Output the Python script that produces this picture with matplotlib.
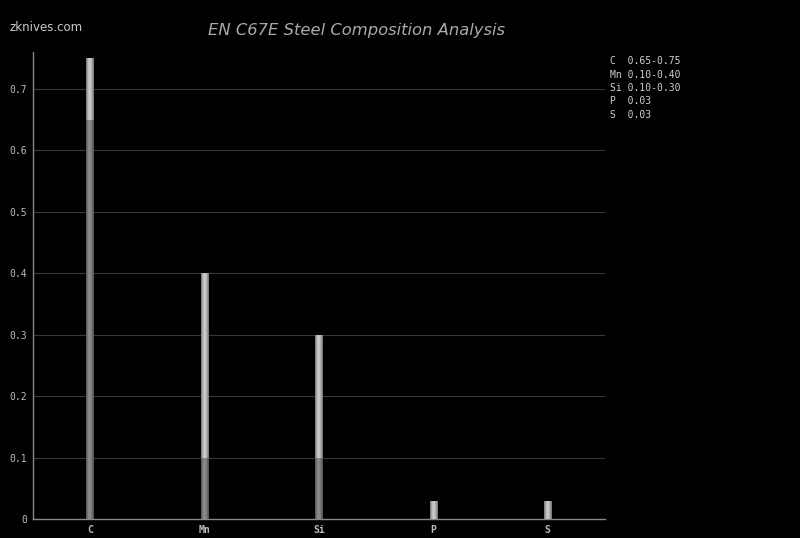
import numpy as np
import matplotlib.pyplot as plt
from matplotlib.colors import LinearSegmentedColormap

# Composition data (wt %), min and max of each element
elements = ['C', 'Mn', 'Si', 'P', 'S']
min_vals = [0.65, 0.10, 0.10, 0.0, 0.0]
max_vals = [0.75, 0.40, 0.30, 0.03, 0.03]
legend_lines = ['C  0.65-0.75', 'Mn 0.10-0.40', 'Si 0.10-0.30', 'P  0.03', 'S  0.03']
y_ticks = [0, 0.1, 0.2, 0.3, 0.4, 0.5, 0.6, 0.7]

fig = plt.figure(figsize=(8, 5.38), dpi=100, facecolor='black')
ax = fig.add_axes([33 / 800, 1 - 519 / 538, 572 / 800, 467 / 538])
ax.set_facecolor('black')

# cylinder-like shading across each bar
dark_cmap = LinearSegmentedColormap.from_list('dk', ['#505050', '#808080', '#909090', '#707070', '#505050'])
light_cmap = LinearSegmentedColormap.from_list('lt', ['#707070', '#b8b8b8', '#d0d0d0', '#a8a8a8', '#707070'])
grad = np.linspace(0, 1, 64).reshape(1, -1)
width = 0.068

x = np.arange(len(elements))
for i, el in enumerate(elements):
    lo, hi = min_vals[i], max_vals[i]
    if lo > 0:
        bar = ax.bar(x[i], lo, width=width, color='none', zorder=3)[0]
        im = ax.imshow(grad, cmap=dark_cmap, aspect='auto', zorder=3,
                       extent=(x[i] - width / 2, x[i] + width / 2, 0, lo))
        im.set_clip_path(bar)
    bar = ax.bar(x[i], hi - lo, bottom=lo, width=width, color='none', zorder=3)[0]
    im = ax.imshow(grad, cmap=light_cmap, aspect='auto', zorder=3,
                   extent=(x[i] - width / 2, x[i] + width / 2, lo, hi))
    im.set_clip_path(bar)

ax.set_xlim(-0.5, 4.5)
ax.set_ylim(0, 0.76)
ax.set_yticks(y_ticks)
ax.set_yticklabels(['0' if t == 0 else f'{t:.1f}' for t in y_ticks])
ax.set_xticks(x)
ax.set_xticklabels(elements)
ax.tick_params(colors='#bbbbbb', labelsize=7, length=0, pad=4)
for lab in ax.get_xticklabels():
    lab.set_family('DejaVu Sans Mono')
    lab.set_weight('bold')
for lab in ax.get_yticklabels():
    lab.set_family('DejaVu Sans Mono')
ax.grid(axis='y', color='#383838', linewidth=0.8, zorder=0)
for s in ['top', 'right']:
    ax.spines[s].set_visible(False)
for s in ['left', 'bottom']:
    ax.spines[s].set_color('#888888')
    ax.spines[s].set_linewidth(1)

fig.text(10 / 800, 1 - 28 / 538, 'zknives.com', color='#cccccc', fontsize=8.5, va='center')
fig.text(357 / 800, 1 - 31 / 538, 'EN C67E Steel Composition Analysis', color='#aaaaaa',
         fontsize=11.8, style='italic', ha='center', va='center')

for k, line in enumerate(legend_lines):
    fig.text(610 / 800, 1 - (61 + 13.5 * k) / 538, line, color='#d0d0d0', fontsize=7,
             family='DejaVu Sans Mono', va='center')

plt.savefig('out.png', dpi=100, facecolor='black')
plt.close()
